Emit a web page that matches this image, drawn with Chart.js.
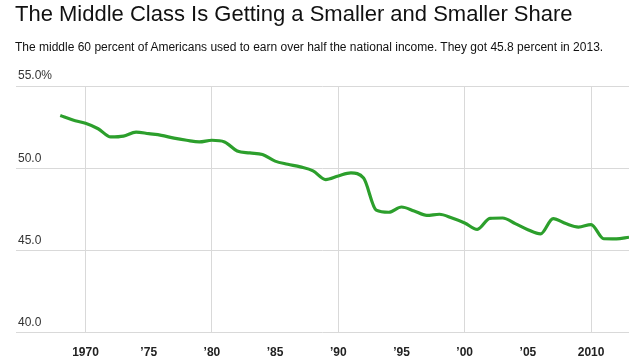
<!DOCTYPE html>
<html>
<head>
<meta charset="utf-8">
<script src="https://cdn.jsdelivr.net/npm/chart.js@4/dist/chart.umd.min.js"></script>
<style>
  html, body { margin: 0; padding: 0; background: #fff; }
  #wrap { position: relative; width: 640px; height: 360px; overflow: hidden; }
  #title { position: absolute; left: 15px; top: 3px; font: 22px/22px "Liberation Sans", Arial, sans-serif; color: #111; white-space: nowrap; }
  #sub { position: absolute; left: 15px; top: 41px; font: 12px/12px "Liberation Sans", Arial, sans-serif; color: #111; white-space: nowrap; }
  canvas { position: absolute; left: 0; top: 0; }
</style>
</head>
<body>
<div id="wrap">
  <canvas id="c" width="640" height="360"></canvas>
  <div id="title">The Middle Class Is Getting a Smaller and Smaller Share</div>
  <div id="sub">The middle 60 percent of Americans used to earn over half the national income. They got 45.8 percent in 2013.</div>
</div>
<script>
const years = [1968,1969,1970,1971,1972,1973,1974,1975,1976,1977,1978,1979,1980,1981,1982,1983,1984,1985,1986,1987,1988,1989,1990,1991,1992,1993,1994,1995,1996,1997,1998,1999,2000,2001,2002,2003,2004,2005,2006,2007,2008,2009,2010,2011,2012,2013];
const shares = [53.2,52.93,52.73,52.4,51.9,51.95,52.2,52.1,52.0,51.83,51.7,51.6,51.7,51.6,51.05,50.93,50.83,50.43,50.24,50.08,49.84,49.31,49.53,49.71,49.4,47.45,47.32,47.64,47.4,47.13,47.2,46.97,46.67,46.28,46.95,46.97,46.63,46.26,46.0,46.93,46.63,46.42,46.57,45.71,45.7,45.8];
const xTicks = [1970,1975,1980,1985,1990,1995,2000,2005,2010];
const yTicks = [40,45,50,55];

const pts = years.map((y, i) => ({ x: y, y: shares[i] }));

new Chart(document.getElementById('c'), {
  type: 'line',
  data: { datasets: [{ data: pts, borderColor: '#2c9f2c', borderWidth: 3.2, pointRadius: 0, fill: false, cubicInterpolationMode: 'monotone' }] },
  options: {
    responsive: false,
    animation: false,
    layout: { padding: { left: 12, right: 11, top: 86, bottom: -13 } },
    plugins: { legend: { display: false }, tooltip: { enabled: false } },
    scales: {
      x: {
        type: 'linear', min: 1964.5, max: 2013,
        afterBuildTicks: s => { s.ticks = xTicks.map(v => ({ value: v })); },
        grid: { color: c => (c.tick && c.tick.value % 10 === 0) ? '#d9d9d9' : 'rgba(0,0,0,0)', drawTicks: false, lineWidth: 1 },
        border: { display: false },
        ticks: {
          padding: 13, color: '#222', font: { family: 'Liberation Sans', size: 12, weight: 'bold' },
          maxRotation: 0, autoSkip: false,
          callback: v => (v === 1970 || v === 2010) ? String(v) : '\u2019' + String(v).slice(2)
        }
      },
      y: {
        min: 40, max: 55,
        afterBuildTicks: s => { s.ticks = yTicks.map(v => ({ value: v })); },
        grid: { color: '#d9d9d9', drawTicks: false, lineWidth: 1 },
        border: { display: false },
        ticks: {
          mirror: true, padding: 2, labelOffset: -10, color: '#333',
          font: { family: 'Liberation Sans', size: 12 },
          callback: v => v === 55 ? '55.0%' : v.toFixed(1)
        }
      }
    }
  }
});
</script>
</body>
</html>
